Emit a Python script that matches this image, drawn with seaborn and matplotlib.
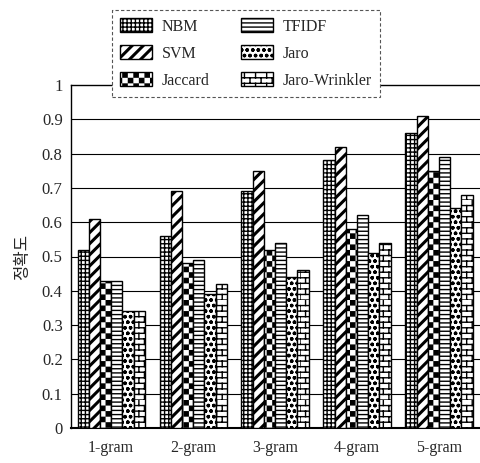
import numpy as np
import pandas as pd
import matplotlib
matplotlib.use("Agg")
import matplotlib.pyplot as plt
import matplotlib.hatch as mhatch
from matplotlib.path import Path
from matplotlib.patches import Patch
from matplotlib.legend_handler import HandlerPatch
import seaborn as sns

# ---- data ----
categories = ["1-gram", "2-gram", "3-gram", "4-gram", "5-gram"]
methods = ["NBM", "SVM", "Jaccard", "TFIDF", "Jaro", "Jaro-Wrinkler"]
nbm = [0.52, 0.56, 0.69, 0.78, 0.86]
svm = [0.61, 0.69, 0.75, 0.82, 0.91]
jaccard = [0.43, 0.48, 0.52, 0.58, 0.75]
tfidf = [0.43, 0.49, 0.54, 0.62, 0.79]
jaro = [0.34, 0.39, 0.44, 0.51, 0.64]
jaro_wrinkler = [0.34, 0.42, 0.46, 0.54, 0.68]
yticks = [0, 0.1, 0.2, 0.3, 0.4, 0.5, 0.6, 0.7, 0.8, 0.9, 1]
ytick_labels = ["0", "0.1", "0.2", "0.3", "0.4", "0.5", "0.6", "0.7", "0.8", "0.9", "1"]
ylabel = "정확도"

series = [nbm, svm, jaccard, tfidf, jaro, jaro_wrinkler]
df = pd.DataFrame({
    "gram": [c for s in series for c in categories],
    "method": [m for m, s in zip(methods, series) for _ in s],
    "value": [v for s in series for v in s],
})


# ---- custom hatch patterns (checker and brick) ----
class CheckerHatch(mhatch.HatchPatternBase):
    def __init__(self, hatch, density):
        self.n = int(hatch.count('*') * density)
        self.cells = [(i, j) for i in range(self.n) for j in range(self.n)
                      if (i + j) % 2 == 0]
        self.num_vertices = len(self.cells) * 5

    def set_vertices_and_codes(self, vertices, codes):
        n = self.n
        k = 0
        sh = 0.12 / n
        for i, j in self.cells:
            x0, y0 = i / n + sh, j / n + sh
            x1, y1 = (i + 1) / n - sh, (j + 1) / n - sh
            vertices[k:k + 5] = [(x0, y0), (x1, y0), (x1, y1), (x0, y1), (x0, y0)]
            codes[k] = Path.MOVETO
            codes[k + 1:k + 4] = Path.LINETO
            codes[k + 4] = Path.CLOSEPOLY
            k += 5


class BrickHatch(mhatch.HatchPatternBase):
    def __init__(self, hatch, density):
        self.n = int(hatch.count('.') * density)
        self.m = max(self.n // 2, 1)
        self.num_vertices = (self.n + self.n * self.m) * 2

    def set_vertices_and_codes(self, vertices, codes):
        n, m = self.n, self.m
        k = 0
        for r in range(n):
            y = r / n
            vertices[k] = (0.0, y)
            vertices[k + 1] = (1.0, y)
            codes[k] = Path.MOVETO
            codes[k + 1] = Path.LINETO
            k += 2
        for r in range(n):
            off = 0.5 * (r % 2)
            for c in range(m):
                x = (c + off) / m
                vertices[k] = (x, r / n)
                vertices[k + 1] = (x, (r + 1) / n)
                codes[k] = Path.MOVETO
                codes[k + 1] = Path.LINETO
                k += 2


for i, t in enumerate(mhatch._hatch_types):
    if t is mhatch.Stars:
        mhatch._hatch_types[i] = CheckerHatch
    elif t is mhatch.SmallFilledCircles:
        mhatch._hatch_types[i] = BrickHatch

hatches = ["++++", "///", "***", "----", "ooo", "..."]
hatch_lw = [1.0, 2.2, 1.0, 1.0, 1.0, 1.0]

# ---- style ----
sns.set_style("white")
plt.rcParams["font.family"] = ["Liberation Serif", "DejaVu Serif"]
plt.rcParams["hatch.linewidth"] = 1.0
plt.rcParams["hatch.color"] = "black"

fig = plt.figure(figsize=(4.8, 4.63), dpi=100)
ax = fig.add_axes([71 / 480, 1 - 428 / 463, 1 - 71 / 480, (428 - 85) / 463])

sns.barplot(data=df, x="gram", y="value", hue="method", order=categories,
            hue_order=methods, palette=["white"] * 6, edgecolor="black",
            linewidth=1.0, width=0.82, gap=0, legend=False, ax=ax,
            errorbar=None, zorder=3)


def apply_hatch(p, h, lw):
    p.set_hatch(h)
    p.set_facecolor("white")
    p.set_edgecolor("black")
    if hasattr(p, "set_hatch_linewidth"):
        p.set_hatch_linewidth(lw)


for cont, h, lw in zip(ax.containers, hatches, hatch_lw):
    for p in cont:
        apply_hatch(p, h, lw)

ax.set_xlim(-0.49, 4.5)
ax.set_ylim(0, 1)
ax.set_yticks(yticks)
ax.set_yticklabels(ytick_labels, fontsize=12)
ax.set_xticks(range(len(categories)))
ax.set_xticklabels(categories, fontsize=11.5)
ax.tick_params(axis="x", length=0, pad=9)
ax.tick_params(axis="y", length=0, pad=6)
ax.set_xticks([0.5, 1.5, 2.5, 3.5], minor=True)
ax.tick_params(axis="x", which="minor", direction="in", length=4, width=1, color="black")
ax.set_xlabel("")
ax.set_ylabel(ylabel, fontsize=12, family=["Noto Sans CJK KR", "DejaVu Sans"], labelpad=8)

for v in yticks[1:-1]:
    ax.axhline(v, color="black", linewidth=0.8, zorder=1)

for s in ["left", "top"]:
    ax.spines[s].set_color("black")
    ax.spines[s].set_linewidth(1.0)
ax.spines["bottom"].set_color("black")
ax.spines["bottom"].set_linewidth(1.5)
ax.spines["right"].set_visible(False)

handles = []
for m, h, lw in zip(methods, hatches, hatch_lw):
    hp = Patch(facecolor="white", edgecolor="black", label=m, linewidth=1.0)
    apply_hatch(hp, h, lw)
    handles.append(hp)


def copy_props(legend_handle, orig_handle):
    legend_handle.update_from(orig_handle)
    if hasattr(orig_handle, "get_hatch_linewidth") and hasattr(legend_handle, "set_hatch_linewidth"):
        legend_handle.set_hatch_linewidth(orig_handle.get_hatch_linewidth())


leg = fig.legend(handles=handles, ncol=2, loc="upper left",
                 bbox_to_anchor=(112 / 480, 1 - 10 / 463), bbox_transform=fig.transFigure,
                 fontsize=11.5, frameon=True, fancybox=False, handlelength=2.0,
                 handleheight=1.0, labelspacing=0.65, columnspacing=2.0,
                 handletextpad=0.6, borderpad=0.5, borderaxespad=0,
                 handler_map={Patch: HandlerPatch(update_func=copy_props)})
frame = leg.get_frame()
frame.set_edgecolor("#555555")
frame.set_linestyle((0, (3, 2)))
frame.set_linewidth(0.8)
frame.set_facecolor("white")
frame.set_alpha(1.0)
leg.set_zorder(10)

fig.savefig("out.png", dpi=100)
